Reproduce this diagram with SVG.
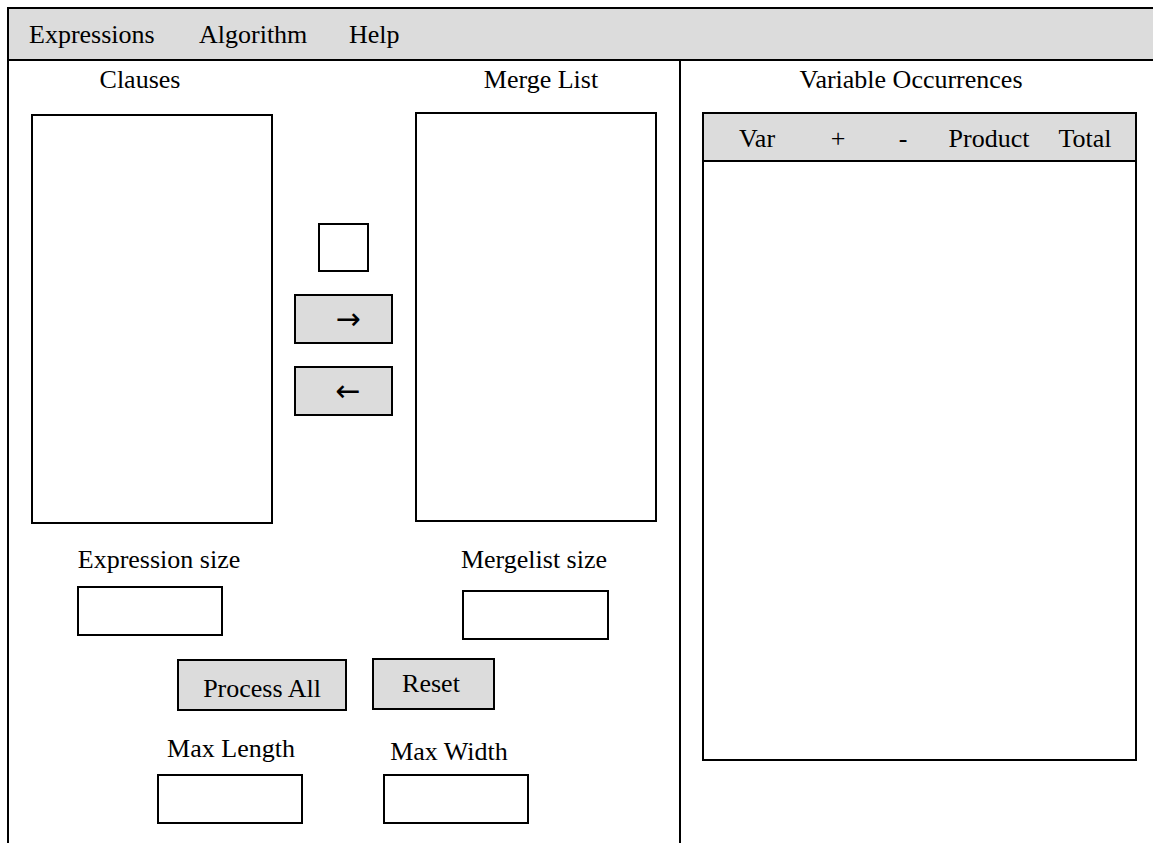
<svg xmlns="http://www.w3.org/2000/svg" width="1153" height="843" viewBox="0 0 1153 843" font-family="'Liberation Serif', 'Times New Roman', serif">
  <style>
    .box { fill: #fff; stroke: #000; stroke-width: 2; }
    .btn { fill: #dcdcdc; stroke: #000; stroke-width: 2; }
    .line { stroke: #000; stroke-width: 2; fill: none; }
    .lbl { font-family: 'Liberation Serif', 'Times New Roman', serif; font-size: 26px; fill: #000; }
    .mid { text-anchor: middle; }
    .arrow { font-family: 'DejaVu Sans', sans-serif; font-size: 30px; text-anchor: middle; }
  </style>

  <rect x="0" y="0" width="1153" height="843" fill="#fff"/>

  <!-- window frame and panel divider -->
  <g id="frame">
    <rect id="menubar" x="8" y="8" width="1150" height="52" class="btn"/>
    <line x1="8" y1="60" x2="8" y2="843" class="line"/>
    <line x1="680" y1="60" x2="680" y2="843" class="line"/>
  </g>

  <!-- menu entries -->
  <g id="menu" class="lbl">
    <text x="29" y="43">Expressions</text>
    <text x="199" y="43">Algorithm</text>
    <text x="349" y="43">Help</text>
  </g>

  <!-- clause list -->
  <g id="clauses">
    <text x="140" y="88" class="lbl mid">Clauses</text>
    <rect x="32" y="115" width="240" height="408" class="box"/>
  </g>

  <!-- merge list -->
  <g id="merge-list">
    <text x="541" y="88" class="lbl mid">Merge List</text>
    <rect x="416" y="113" width="240" height="408" class="box"/>
  </g>

  <!-- transfer controls -->
  <g id="count-field">
    <rect x="319" y="224" width="49" height="47" class="box"/>
  </g>
  <g id="move-right">
    <rect x="295" y="295" width="97" height="48" class="btn"/>
    <text x="348" y="329" class="arrow">→</text>
  </g>
  <g id="move-left">
    <rect x="295" y="367" width="97" height="48" class="btn"/>
    <text x="348" y="401" class="arrow">←</text>
  </g>

  <!-- size fields -->
  <g id="expression-size">
    <text x="159" y="568" class="lbl mid">Expression size</text>
    <rect x="78" y="587" width="144" height="48" class="box"/>
  </g>
  <g id="mergelist-size">
    <text x="534" y="568" class="lbl mid">Mergelist size</text>
    <rect x="463" y="591" width="145" height="48" class="box"/>
  </g>

  <!-- action buttons -->
  <g id="process-all">
    <rect x="178" y="660" width="168" height="50" class="btn"/>
    <text x="262" y="697" class="lbl mid">Process All</text>
  </g>
  <g id="reset">
    <rect x="373" y="659" width="121" height="50" class="btn"/>
    <text x="431" y="692" class="lbl mid">Reset</text>
  </g>

  <!-- limits -->
  <g id="max-length">
    <text x="231" y="757" class="lbl mid">Max Length</text>
    <rect x="158" y="775" width="144" height="48" class="box"/>
  </g>
  <g id="max-width">
    <text x="449" y="760" class="lbl mid">Max Width</text>
    <rect x="384" y="775" width="144" height="48" class="box"/>
  </g>

  <!-- variable occurrence table -->
  <g id="variable-occurrences">
    <text x="911" y="88" class="lbl mid">Variable Occurrences</text>
    <rect x="703" y="113" width="433" height="647" class="box"/>
    <rect x="703" y="113" width="433" height="48" class="btn"/>
    <text x="757" y="147" class="lbl mid">Var</text>
    <text x="838" y="147" class="lbl mid">+</text>
    <text x="903" y="147" class="lbl mid">-</text>
    <text x="989" y="147" class="lbl mid">Product</text>
    <text x="1085" y="147" class="lbl mid">Total</text>
  </g>

  <g id="connectors"></g>
</svg>
